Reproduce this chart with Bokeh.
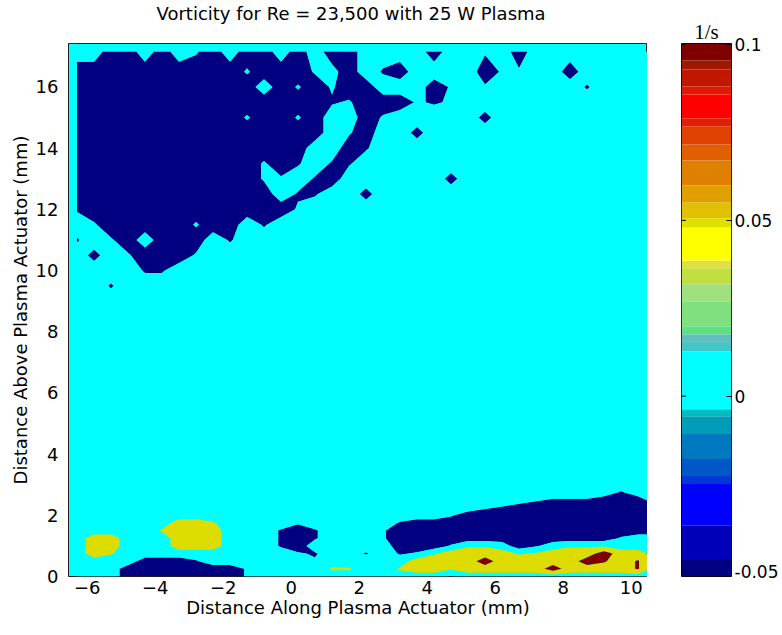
import numpy as np
from bokeh.plotting import figure
from bokeh.layouts import row
from bokeh.models import FixedTicker, Range1d, Spacer, Title
from bokeh.embed import file_html
from bokeh.resources import INLINE

# ---------------- data ----------------
TITLE = "Vorticity for Re = 23,500 with 25 W Plasma"
X_LABEL = "Distance Along Plasma Actuator (mm)"
Y_LABEL = "Distance Above Plasma Actuator (mm)"
CB_TITLE = "1/s"

# grid columns (mm along actuator)
X_MM = [-6.3, -5.8, -5.3, -4.8, -4.3, -3.8, -3.3, -2.8, -2.3, -1.8, -1.3, -0.8,
        -0.3, 0.2, 0.7, 1.2, 1.7, 2.2, 2.7, 3.2, 3.7, 4.2, 4.7, 5.2, 5.7, 6.2,
        6.7, 7.2, 7.7, 8.2, 8.7, 9.2, 9.7, 10.2, 10.7]
# grid rows (mm above actuator), listed top to bottom
Y_MM = [17.15, 16.5, 16.0, 15.5, 15.0, 14.5, 14.0, 13.5, 13.0, 12.5, 12.0, 11.5,
        11.0, 10.5, 10.0, 9.5, 9.0, 8.0, 7.0, 6.0, 5.0, 4.0, 3.5, 3.0, 2.75, 2.5,
        2.25, 2.0, 1.75, 1.5, 1.25, 1.0, 0.75, 0.5, 0.25, 0.0]

# vorticity, one character per grid node
VORT_CODES = {"D": -0.05, "c": -0.04, "d": -0.03, "e": -0.02, "f": -0.01,
              ".": 0.0, "w": 0.02, "y": 0.03, "Y": 0.05, "r": 0.08, "R": 0.1}
VORT_ROWS = [
    "..DD.D.eD.DD.D.DD....D..e.D........",  # 17.15
    "DDDDDDDDDDeDDDefD.dD....Dee..D.....",  # 16.5
    "DDDDDDDDDDD.DeDeDD...De.e.....d....",  # 16.0
    "DDDDDDDDDDDDDDDdeDDDede............",  # 15.5
    "DDDDDDDDDDeDDeD..De.....c..........",  # 15.0
    "DDDDDDDDDDDDDDD.eD..c..............",  # 14.5
    "DDDDDDDDDDDDDD..Dd.................",  # 14.0
    "DDDDDDDDDDDeDd.dd..................",  # 13.5
    "DDDDDDDDDDDee.dD......c............",  # 13.0
    "DDDDDDDDDDDD.dd..c.................",  # 12.5
    "dDDDDDDDDDDDDe.....................",  # 12.0
    ".eDDDDDeDD.d.......................",  # 11.5
    "d.eD.DDD.d.........................",  # 11.0
    ".c.eDDDe...........................",  # 10.5
    "....dd.............................",  # 10.0
    "..d................................",  # 9.5
    "...................................",  # 9.0
    "...................................",  # 8.0
    "...................................",  # 7.0
    "...................................",  # 6.0
    "...................................",  # 5.0
    "...................................",  # 4.0
    "...................................",  # 3.5
    "...................................",  # 3.0
    "................................d..",  # 2.75
    "...........................edddDDD.",  # 2.5
    "........................edDDDDDDDDe",  # 2.25
    "......................eDDDDDDDDDDDD",  # 2.0
    "......YYy....e.....dDDDDDDDDDDDDDDD",  # 1.75
    ".....yYYY...dDd...eDDDDDDDDDDDDDDDD",  # 1.5
    ".YY...YYY...dDd...eDDDDDDDDDDDDDe..",  # 1.25
    ".YY...YYY...dD.....DDDeww.Dd.www...",  # 1.0
    ".Yy..........ed..d.dewYYYYwyYYYRYY.",  # 0.75
    "....DDDd......e.....YYYYRYYYYYRrYr.",  # 0.5
    "...DDDDDDDe....yy..yYYyYYYYYRYYYYr.",  # 0.25
    "...DDDDDDDe...........d............",  # 0.0
]

LEVELS = [-0.06, -0.025, 0.025, 0.075, 0.11]
LEVEL_COLORS = ["#000080", "#00FFFF", "#DCDC00", "#800000"]

X_TICKS = [-6, -4, -2, 0, 2, 4, 6, 8, 10]
Y_TICKS = [0, 2, 4, 6, 8, 10, 12, 14, 16]

# colour bar bands (value edges, bottom to top) and their colours
CB_EDGES = [-0.0513, -0.0463, -0.0369, -0.0250, -0.0227, -0.0179, -0.0108,
            -0.0057, -0.0037, 0.0128, 0.0151, 0.0176, 0.0199, 0.0270, 0.0318,
            0.0364, 0.0386, 0.0480, 0.0506, 0.0551, 0.0599, 0.0670, 0.0716,
            0.0767, 0.0790, 0.0858, 0.0881, 0.0929, 0.0955, 0.1003]
CB_COLORS = ["#000080", "#0000B8", "#0000FF", "#0038D8", "#0058C8", "#0078C0",
             "#009CB8", "#00BCC0", "#00FFFF", "#40C8C8", "#60C0C0", "#60E080",
             "#80E080", "#A0E080", "#C0E040", "#E0E040", "#FFFF00", "#E0E000",
             "#E0C000", "#E0A000", "#E08000", "#E06000", "#E04000", "#E02000",
             "#FF0000", "#E01800", "#C01800", "#A01800", "#800000"]
CB_TICKS = [-0.05, 0.0, 0.05, 0.1]
CB_TICK_LABELS = ["-0.05", "0", "0.05", "0.1"]

for r in VORT_ROWS:
    if len(r) != len(X_MM):
        raise ValueError("row length %d: %s" % (len(r), r))

z = np.array([[VORT_CODES[ch] for ch in r] for r in VORT_ROWS][::-1])
y = np.array(Y_MM[::-1])
x = np.array(X_MM)

FONT = "DejaVu Sans"

# ---------------- main plot ----------------
p = figure(frame_width=579, frame_height=533,
           x_range=Range1d(-6.55, 10.48), y_range=Range1d(0, 17.42),
           toolbar_location=None, output_backend="svg", title=None,
           min_border=0, min_border_left=68, min_border_right=0,
           min_border_top=42, min_border_bottom=52,
           background_fill_color="#00FFFF")
p.contour(x, y, z, LEVELS, fill_color=LEVEL_COLORS)

# gap between frame and title (nearest panel), then the title above it
p.add_layout(Title(text=" ", text_font_size="2px", standoff=16), "above")
p.add_layout(Title(text=TITLE, align="left", offset=88, vertical_align="bottom",
                   text_font=FONT, text_font_style="normal",
                   text_font_size="18px", text_color="black", standoff=0),
             "above")

p.grid.visible = False
p.outline_line_color = "#202020"
p.outline_line_width = 1
p.outline_line_alpha = 1.0

for ax in (p.xaxis[0], p.yaxis[0]):
    ax.major_tick_in = 0
    ax.major_tick_out = 0
    ax.minor_tick_line_color = None
    ax.axis_line_color = None
    ax.major_label_text_font = FONT
    ax.major_label_text_font_size = "18px"
    ax.major_label_text_color = "black"
    ax.axis_label_text_font = FONT
    ax.axis_label_text_font_size = "18px"
    ax.axis_label_text_font_style = "normal"
    ax.axis_label_text_color = "black"
p.xaxis.ticker = FixedTicker(ticks=X_TICKS)
p.yaxis.ticker = FixedTicker(ticks=Y_TICKS)
p.xaxis.axis_label = X_LABEL
p.yaxis.axis_label = Y_LABEL
p.xaxis.major_label_standoff = 4
p.xaxis.axis_label_standoff = 0
p.yaxis.major_label_standoff = 10
p.yaxis.axis_label_standoff = 2

# ---------------- colour bar ----------------
cb = figure(frame_width=50, frame_height=533,
            x_range=Range1d(0, 1), y_range=Range1d(-0.0513, 0.1003),
            toolbar_location=None, output_backend="svg", title=CB_TITLE,
            y_axis_location="right", min_border=0, min_border_left=0,
            min_border_top=42, min_border_right=40, min_border_bottom=52)
cb.quad(left=0, right=1, bottom=CB_EDGES[:-1], top=CB_EDGES[1:],
        fill_color=CB_COLORS, line_color=None)
cb.segment(x0=0, x1=0.09, y0=CB_TICKS, y1=CB_TICKS, line_color="black",
           line_width=1)
cb.xaxis.visible = False
cb.grid.visible = False
cb.outline_line_color = "black"
cb.outline_line_alpha = 1.0
ya = cb.yaxis[0]
ya.ticker = FixedTicker(ticks=CB_TICKS)
ya.major_label_overrides = dict(zip(CB_TICKS, CB_TICK_LABELS))
ya.major_tick_in = 5
ya.major_tick_out = 0
ya.major_tick_line_color = "black"
ya.minor_tick_line_color = None
ya.axis_line_color = None
ya.major_label_standoff = 3
ya.major_label_text_font = FONT
ya.major_label_text_font_size = "17px"
ya.major_label_text_color = "black"
cb.title.align = "center"
cb.title.text_font = "Liberation Serif"
cb.title.text_font_style = "normal"
cb.title.text_font_size = "21px"
cb.title.text_color = "black"
cb.title.standoff = 0

layout = row(p, Spacer(width=34, height=10), cb)
open("out.html", "w").write(file_html(layout, INLINE))
